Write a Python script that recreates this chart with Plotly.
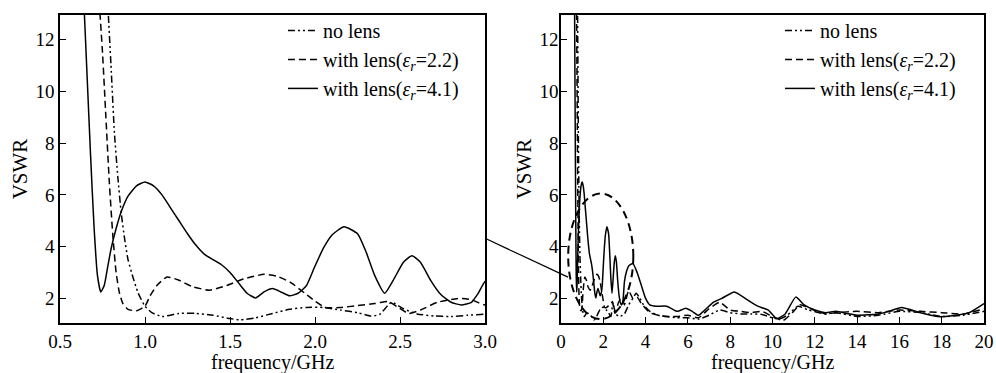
import plotly.graph_objects as go

# ---- data (frequency in GHz, VSWR) ----
f_41 = [0.62, 0.64, 0.66, 0.68, 0.70, 0.72, 0.74, 0.76, 0.78, 0.80, 0.83, 0.86, 0.90, 0.95,
        1.00, 1.05, 1.10, 1.15, 1.20, 1.25, 1.30, 1.35, 1.40, 1.45, 1.50, 1.55, 1.60, 1.65,
        1.70, 1.75, 1.80, 1.85, 1.90, 1.95, 2.00, 2.05, 2.10, 2.17, 2.25, 2.30, 2.35, 2.41,
        2.46, 2.52, 2.57, 2.62, 2.68, 2.74, 2.80, 2.86, 2.92, 2.96, 3.00, 3.10, 3.20, 3.40,
        3.60, 3.80, 4.00, 4.20, 4.50, 5.00, 5.50, 5.90, 6.20, 6.50, 6.80, 7.20, 7.60, 8.20,
        8.80, 9.30, 9.80, 10.20, 10.60, 11.10, 11.50, 12.00, 12.50, 13.00, 13.50, 14.00,
        15.00, 15.50, 16.10, 17.00, 17.80, 18.50, 19.30, 20.00]
v_41 = [16.0, 13.5, 10.5, 7.5, 4.8, 2.9, 2.25, 2.5, 3.2, 3.9, 4.7, 5.35, 5.95, 6.35,
        6.5, 6.35, 6.0, 5.5, 5.0, 4.5, 4.05, 3.7, 3.5, 3.3, 3.0, 2.6, 2.2, 2.02,
        2.25, 2.38, 2.25, 2.1, 2.2, 2.5, 3.25, 3.95, 4.45, 4.77, 4.5, 3.8, 2.9, 2.2,
        2.7, 3.4, 3.65, 3.4, 2.7, 2.15, 1.85, 1.75, 1.85, 2.2, 2.65, 3.05, 3.25, 3.35,
        3.0, 2.5, 2.0, 1.75, 1.7, 1.7, 1.5, 1.62, 1.5, 1.35, 1.55, 1.85, 2.0, 2.25,
        1.95, 1.7, 1.55, 1.22, 1.4, 2.05, 1.75, 1.55, 1.45, 1.5, 1.42, 1.35,
        1.4, 1.5, 1.65, 1.45, 1.3, 1.33, 1.45, 1.8]

f_22 = [0.70, 0.73, 0.75, 0.77, 0.79, 0.81, 0.83, 0.85, 0.87, 0.90, 0.95, 1.00, 1.03, 1.07,
        1.13, 1.20, 1.28, 1.38, 1.48, 1.58, 1.70, 1.78, 1.86, 1.94, 2.00, 2.06, 2.15, 2.25,
        2.35, 2.43, 2.49, 2.55, 2.62, 2.72, 2.85, 2.92, 3.00, 3.20, 3.40, 3.60, 3.80, 4.20,
        4.60, 5.00, 5.50, 6.00, 6.50, 7.00, 7.50, 8.00, 8.50, 9.00, 9.50, 10.00, 10.50,
        11.00, 11.30, 11.80, 12.50, 13.00, 14.00, 15.00, 16.00, 17.00, 18.00, 19.00, 20.00]
v_22 = [16.0, 13.5, 11.5, 9.0, 6.5, 4.5, 3.0, 2.2, 1.8, 1.58, 1.52, 1.7, 2.1, 2.5,
        2.83, 2.7, 2.45, 2.32, 2.5, 2.75, 2.93, 2.85, 2.6, 2.2, 1.9, 1.65, 1.65, 1.72,
        1.8, 1.88, 1.65, 1.42, 1.55, 1.85, 2.0, 1.95, 1.75, 2.3, 2.0, 2.05, 1.8, 1.45,
        1.35, 1.3, 1.3, 1.35, 1.25, 1.6, 1.85, 1.55, 1.5, 1.45, 1.5, 1.3, 1.15,
        1.5, 1.75, 1.6, 1.4, 1.45, 1.5, 1.45, 1.55, 1.5, 1.45, 1.4, 1.6]

f_no = [0.76, 0.78, 0.80, 0.82, 0.84, 0.86, 0.88, 0.90, 0.93, 0.96, 1.00, 1.04, 1.10, 1.20,
        1.30, 1.40, 1.50, 1.56, 1.65, 1.75, 1.85, 1.95, 2.05, 2.15, 2.25, 2.33, 2.38, 2.45,
        2.52, 2.60, 2.70, 2.80, 2.90, 3.00, 3.20, 3.40, 3.55, 3.70, 3.90, 4.20, 4.60, 5.00,
        5.50, 6.00, 6.50, 7.00, 7.50, 8.00, 8.50, 9.00, 9.50, 10.00, 10.30, 10.70, 11.20,
        11.70, 12.50, 13.00, 14.00, 15.00, 16.00, 17.00, 18.00, 19.00, 20.00]
v_no = [16.0, 13.5, 11.0, 8.4, 6.7, 5.3, 4.3, 3.5, 2.8, 2.2, 1.7, 1.45, 1.3, 1.42,
        1.42, 1.35, 1.22, 1.17, 1.25, 1.42, 1.58, 1.65, 1.65, 1.55, 1.45, 1.32, 1.38, 1.85,
        1.6, 1.4, 1.32, 1.3, 1.35, 1.4, 1.75, 2.0, 2.2, 2.05, 1.75, 1.5, 1.35, 1.3,
        1.25, 1.25, 1.2, 1.35, 1.55, 1.45, 1.4, 1.4, 1.38, 1.25, 1.2, 1.35, 1.7,
        1.55, 1.4, 1.45, 1.3, 1.35, 1.5, 1.45, 1.3, 1.35, 1.5]

names = ["no lens",
         "with lens(<i>ε</i><sub><i>r</i></sub>=2.2)",
         "with lens(<i>ε</i><sub><i>r</i></sub>=4.1)"]
dashes = ["7px,3px,2px,3px,2px,3px", "7px,4px", "solid"]
series = [(f_no, v_no), (f_22, v_22), (f_41, v_41)]

left_ticks = [0.5, 1.0, 1.5, 2.0, 2.5, 3.0]
right_ticks = [0, 2, 4, 6, 8, 10, 12, 14, 16, 18, 20]
y_ticks = [2, 4, 6, 8, 10, 12]
x_title = "frequency/GHz"
y_title = "VSWR"

FONT = "Liberation Serif, Times New Roman, serif"

fig = go.Figure()
for (fx, fy), nm, ds in zip(series, names, dashes):
    fig.add_trace(go.Scatter(x=fx, y=fy, mode="lines", name=nm, xaxis="x", yaxis="y",
                             line=dict(color="black", width=1.5, dash=ds, shape="spline", smoothing=0.5),
                             legend="legend"))
    fig.add_trace(go.Scatter(x=fx, y=fy, mode="lines", name=nm, xaxis="x2", yaxis="y2",
                             line=dict(color="black", width=1.5, dash=ds, shape="spline", smoothing=0.5),
                             legend="legend2"))

axis_common = dict(showline=True, linecolor="black", linewidth=1.5, mirror=True,
                   ticks="inside", ticklen=6, tickwidth=1.2, tickcolor="black",
                   showgrid=False, zeroline=False, automargin=False,
                   tickfont=dict(family=FONT, size=19, color="black"))

yt = dict(text=y_title, font=dict(family=FONT, size=21), standoff=2)

fig.update_layout(
    width=996, height=373,
    margin=dict(l=60, r=12, t=14, b=50),
    paper_bgcolor="white", plot_bgcolor="white",
    font=dict(family=FONT, size=20, color="black"),
    xaxis=dict(domain=[0, 0.46], range=[0.5, 3.0], tickvals=left_ticks,
               ticktext=[f"{t:.1f}" for t in left_ticks], **axis_common),
    yaxis=dict(domain=[0, 1], range=[1.05, 12.95], tickvals=y_ticks, anchor="x",
               title=yt, **axis_common),
    xaxis2=dict(domain=[0.5422, 1], range=[0, 20], tickvals=right_ticks, anchor="y2",
                **axis_common),
    yaxis2=dict(domain=[0, 1], range=[1.05, 12.95], tickvals=y_ticks, anchor="x2",
                ticklabelstandoff=-3, title=yt, **axis_common),
    legend=dict(x=0.2413, y=1.01, xanchor="left", yanchor="top", bgcolor="rgba(0,0,0,0)",
                font=dict(family=FONT, size=20), tracegroupgap=0, itemwidth=30),
    legend2=dict(x=0.7792, y=1.01, xanchor="left", yanchor="top", bgcolor="rgba(0,0,0,0)",
                 font=dict(family=FONT, size=20), tracegroupgap=0, itemwidth=30),
    showlegend=True,
)

# x-axis titles as annotations (placed close under the tick labels)
for xd in ("x domain", "x2 domain"):
    fig.add_annotation(text=x_title, xref=xd, yref="paper", x=0.5, y=-0.127,
                       xanchor="center", yanchor="middle", showarrow=False,
                       font=dict(family=FONT, size=20, color="black"))

# dashed ellipse marking the zoomed region on the right plot
fig.add_shape(type="circle", xref="x2", yref="y2", x0=0.34, x1=3.42, y0=1.2, y1=6.05,
              line=dict(color="black", width=2, dash="8px,5px"))
# connecting line from the left plot to the ellipse
fig.add_shape(type="line", xref="paper", yref="paper", x0=0.46, y0=0.275, x1=0.5498, y1=0.149,
              line=dict(color="black", width=1.2))

fig.write_html("out.html")
